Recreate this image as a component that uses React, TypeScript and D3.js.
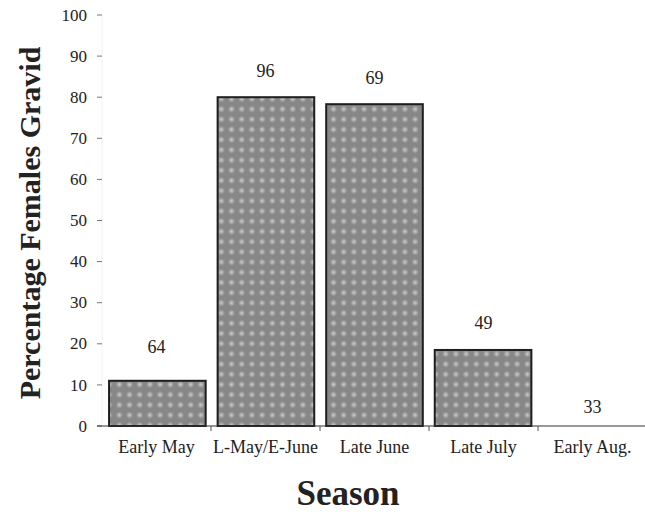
import React from "react";
import * as d3 from "d3";

const categories = ["Early May", "L-May/E-June", "Late June", "Late July", "Early Aug."];
const values = [11, 80, 78.3, 18.5, 0];
const sampleSizes = ["64", "96", "69", "49", "33"];
const sampleLabelLevels = [17.8, 85, 83.2, 23.6, 3.2];
const yTicks = [0, 10, 20, 30, 40, 50, 60, 70, 80, 90, 100];

const W = 645;
const H = 512;
const margin = { left: 102, right: 0, top: 15, bottom: 86 };

export default function App() {
  const x = d3
    .scaleBand<string>()
    .domain(categories)
    .range([margin.left, margin.left + 545])
    .paddingInner(0.11)
    .paddingOuter(0.065);
  const xStep = d3
    .scaleBand<string>()
    .domain(categories)
    .range([margin.left, margin.left + 545]);
  const y = d3.scaleLinear().domain([0, 100]).range([H - margin.bottom, margin.top]);
  const serif = "Liberation Serif, Times New Roman, serif";

  return (
    <svg
      width={W}
      height={H}
      style={{ position: "absolute", left: 0, top: 0, background: "#fff", fontFamily: serif }}
    >
      <defs>
        <radialGradient id="dotg">
          <stop offset="0%" stopColor="#cccccc" />
          <stop offset="60%" stopColor="#a5a5a5" />
          <stop offset="100%" stopColor="#8a8a8a" />
        </radialGradient>
        <pattern id="dots" width={10.2} height={10.2} patternUnits="userSpaceOnUse" x={2} y={2}>
          <rect width={10.2} height={10.2} fill="#878787" />
          <circle cx={5.1} cy={5.1} r={3.4} fill="url(#dotg)" />
        </pattern>
      </defs>
      {/* y axis */}
      <line x1={margin.left} x2={margin.left} y1={y(100)} y2={y(0)} stroke="#f2f2f2" strokeWidth={1} />
      {yTicks.map((t) => (
        <g key={t}>
          <line x1={margin.left - 5} x2={margin.left} y1={y(t)} y2={y(t)} stroke="#777" strokeWidth={1} />
          <text x={87} y={y(t)} dy="0.33em" textAnchor="end" fontSize={17} fill="#222" style={{ fontFamily: serif }}>
            {t}
          </text>
        </g>
      ))}
      {/* bars */}
      {categories.map((c, i) =>
        values[i] > 0 ? (
          <rect
            key={c}
            x={x(c)}
            y={y(values[i])}
            width={x.bandwidth()}
            height={y(0) - y(values[i])}
            fill="url(#dots)"
            stroke="#1e1e1e"
            strokeWidth={2}
          />
        ) : null
      )}
      {/* x axis */}
      <line x1={margin.left - 5} x2={W} y1={y(0)} y2={y(0)} stroke="#333" strokeWidth={1.2} />
      {categories.slice(1).map((c) => (
        <line key={c} x1={xStep(c)} x2={xStep(c)} y1={y(0)} y2={y(0) + 5} stroke="#555" strokeWidth={1} />
      ))}
      {categories.map((c) => (
        <text
          key={c}
          x={(xStep(c) as number) + xStep.bandwidth() / 2}
          y={453}
          textAnchor="middle"
          fontSize={18}
          fill="#222"
          style={{ fontFamily: serif }}
        >
          {c}
        </text>
      ))}
      {/* sample sizes */}
      {categories.map((c, i) => (
        <text
          key={c}
          x={(xStep(c) as number) + xStep.bandwidth() / 2}
          y={y(sampleLabelLevels[i])}
          textAnchor="middle"
          fontSize={18}
          fill="#222"
          style={{ fontFamily: serif }}
        >
          {sampleSizes[i]}
        </text>
      ))}
      {/* axis titles */}
      <text
        transform={`translate(40, 223) rotate(-90)`}
        textAnchor="middle"
        fontSize={30}
        fontWeight="bold"
        fill="#222"
        style={{ fontFamily: serif }}
      >
        Percentage Females Gravid
      </text>
      <text
        x={348}
        y={505}
        textAnchor="middle"
        fontSize={35}
        fontWeight="bold"
        fill="#222"
        style={{ fontFamily: serif }}
      >
        Season
      </text>
    </svg>
  );
}
